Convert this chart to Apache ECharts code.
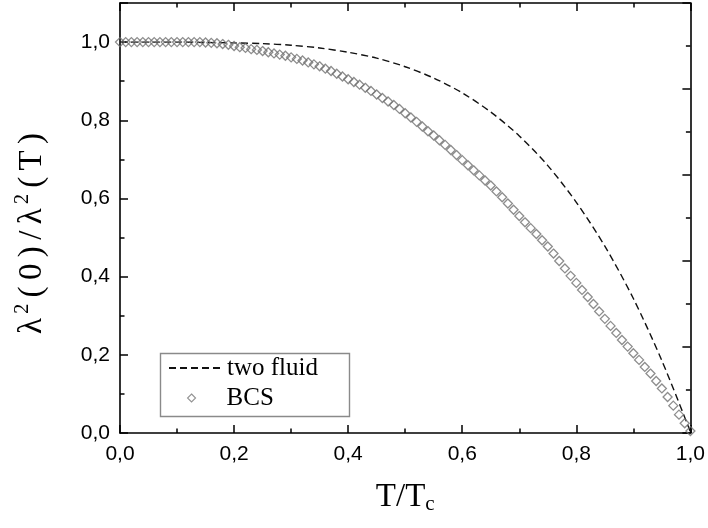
<!DOCTYPE html>
<html>
<head>
<meta charset="utf-8">
<script src="https://cdn.jsdelivr.net/npm/echarts@6/dist/echarts.min.js"></script>
<style>
html,body{margin:0;padding:0;background:#fff;}
#chart{width:708px;height:528px;}
</style>
</head>
<body>
<div id="chart"></div>
<script>
// ---- data ----
var twoFluidT = [0, 0.05, 0.1, 0.15, 0.2, 0.25, 0.3, 0.35, 0.4, 0.45, 0.5, 0.55, 0.6, 0.65, 0.7, 0.75, 0.8, 0.85, 0.9, 0.95, 1.0];
var twoFluidV = [1.0, 1.0, 1.0, 0.999, 0.998, 0.996, 0.992, 0.985, 0.974, 0.959, 0.937, 0.908, 0.870, 0.821, 0.760, 0.684, 0.590, 0.478, 0.344, 0.185, 0.003];

var bcsT = [0.00, 0.01, 0.02, 0.03, 0.04, 0.05, 0.06, 0.07, 0.08, 0.09,
            0.10, 0.11, 0.12, 0.13, 0.14, 0.15, 0.16, 0.17, 0.18, 0.19,
            0.20, 0.21, 0.22, 0.23, 0.24, 0.25, 0.26, 0.27, 0.28, 0.29,
            0.30, 0.31, 0.32, 0.33, 0.34, 0.35, 0.36, 0.37, 0.38, 0.39,
            0.40, 0.41, 0.42, 0.43, 0.44, 0.45, 0.46, 0.47, 0.48, 0.49,
            0.50, 0.51, 0.52, 0.53, 0.54, 0.55, 0.56, 0.57, 0.58, 0.59,
            0.60, 0.61, 0.62, 0.63, 0.64, 0.65, 0.66, 0.67, 0.68, 0.69,
            0.70, 0.71, 0.72, 0.73, 0.74, 0.75, 0.76, 0.77, 0.78, 0.79,
            0.80, 0.81, 0.82, 0.83, 0.84, 0.85, 0.86, 0.87, 0.88, 0.89,
            0.90, 0.91, 0.92, 0.93, 0.94, 0.95, 0.96, 0.97, 0.98, 0.99,
            1.00];
var bcsV = [1.000, 1.000, 1.000, 1.000, 1.000, 1.000, 1.000, 1.000, 1.000, 1.000,
            1.000, 1.000, 1.000, 1.000, 1.000, 0.999, 0.998, 0.997, 0.995, 0.993,
            0.990, 0.987, 0.985, 0.982, 0.980, 0.977, 0.974, 0.971, 0.968, 0.965,
            0.961, 0.957, 0.953, 0.948, 0.943, 0.938, 0.932, 0.926, 0.919, 0.912,
            0.905, 0.898, 0.891, 0.883, 0.875, 0.866, 0.857, 0.848, 0.839, 0.829,
            0.818, 0.807, 0.796, 0.784, 0.772, 0.761, 0.749, 0.737, 0.724, 0.711,
            0.698, 0.685, 0.672, 0.659, 0.646, 0.633, 0.618, 0.603, 0.587, 0.571,
            0.555, 0.539, 0.524, 0.509, 0.493, 0.477, 0.459, 0.440, 0.421, 0.402,
            0.384, 0.366, 0.348, 0.330, 0.311, 0.292, 0.274, 0.256, 0.238, 0.221,
            0.204, 0.187, 0.169, 0.152, 0.133, 0.114, 0.092, 0.070, 0.047, 0.025,
            0.005];

var xTickLabels = ['0,0', '0,2', '0,4', '0,6', '0,8', '1,0'];
var yTickLabels = ['0,0', '0,2', '0,4', '0,6', '0,8', '1,0'];
var seriesNames = ['two fluid', 'BCS'];

function zip(a, b) { var r = []; for (var i = 0; i < a.length; i++) r.push([a[i], b[i]]); return r; }
function fmt(labels) {
  return function (v) { var i = Math.round(v / 0.2); return (Math.abs(v - i * 0.2) < 1e-6 && labels[i] !== undefined) ? labels[i] : ''; };
}

var chart = echarts.init(document.getElementById('chart'), null, { renderer: 'canvas' });
var AX = '#000';
var sansFont = 'Liberation Sans';
var serifFont = 'Liberation Serif';

var nStyle = { fontSize: 33, fontFamily: serifFont, color: '#000', lineHeight: 38, padding: [0, 3.2, 0, 3.2] };
var sStyle = { fontSize: 20, fontFamily: serifFont, color: '#000', verticalAlign: 'top', lineHeight: 16, padding: [0, 3, 0, 1] };
var endStyle = { fontSize: 33, fontFamily: serifFont, color: '#000', lineHeight: 38, padding: [0, 34, 0, 3.2] };

var option = {
  backgroundColor: '#fff',
  animation: false,
  grid: { left: 120, right: 16, top: 3, bottom: 95, containLabel: false },
  xAxis: [
    {
      type: 'value', min: 0, max: 1, interval: 0.2, position: 'bottom',
      axisLine: { show: true, onZero: false, lineStyle: { color: AX, width: 1.6 } },
      axisTick: { show: true, inside: true, length: 8, lineStyle: { color: AX, width: 1.5 } },
      minorTick: { show: true, splitNumber: 2, length: 4.5, lineStyle: { color: AX, width: 1.5 } },
      splitLine: { show: false },
      axisLabel: { formatter: fmt(xTickLabels), color: '#000', fontSize: 21, fontFamily: sansFont, margin: 11 },
      name: '{n|T/T}{sub|c}',
      nameLocation: 'middle', nameGap: 46,
      nameTextStyle: {
        rich: {
          n: { fontSize: 33, fontFamily: serifFont, color: '#000', lineHeight: 36 },
          sub: { fontSize: 21, fontFamily: serifFont, color: '#000', verticalAlign: 'bottom', lineHeight: 16 }
        }
      }
    },
    {
      type: 'value', min: 0, max: 1, interval: 0.2, position: 'top',
      axisLine: { show: true, onZero: false, lineStyle: { color: AX, width: 1.6 } },
      axisTick: { show: true, inside: true, length: 8, lineStyle: { color: AX, width: 1.5 } },
      minorTick: { show: true, splitNumber: 2, length: 4.5, lineStyle: { color: AX, width: 1.5 } },
      splitLine: { show: false },
      axisLabel: { show: false }
    }
  ],
  yAxis: [
    {
      type: 'value', min: 0, max: 1.1, interval: 0.2, position: 'left',
      axisLine: { show: true, onZero: false, lineStyle: { color: AX, width: 1.6 } },
      axisTick: { show: true, inside: true, length: 8, lineStyle: { color: AX, width: 1.5 } },
      minorTick: { show: true, splitNumber: 2, length: 4.5, lineStyle: { color: AX, width: 1.5 } },
      splitLine: { show: false },
      axisLabel: { formatter: fmt(yTickLabels), color: '#000', fontSize: 21, fontFamily: sansFont, margin: 10, showMaxLabel: false },
      name: '{n|λ}{s|2}{n|(}{n|0}{n|)}{n|/}{n|λ}{s|2}{n|(}{n|T}{e|)}',
      nameLocation: 'middle', nameGap: 69, nameRotate: 90,
      nameTextStyle: {
        rich: { n: nStyle, s: sStyle, e: endStyle }
      }
    },
    {
      type: 'value', min: 0, max: 1, interval: 0.2, position: 'right',
      axisLine: { show: true, onZero: false, lineStyle: { color: AX, width: 1.6 } },
      axisTick: { show: true, inside: true, length: 8, lineStyle: { color: AX, width: 1.5 } },
      minorTick: { show: true, splitNumber: 2, length: 4.5, lineStyle: { color: AX, width: 1.5 } },
      splitLine: { show: false },
      axisLabel: { show: false }
    }
  ],
  legend: [
    {
      data: [seriesNames[0]], left: 168, top: 355, padding: 0,
      itemWidth: 53, itemHeight: 12, orient: 'vertical',
      itemStyle: { color: 'rgba(0,0,0,0)', borderColor: 'rgba(0,0,0,0)', borderWidth: 0 },
      textStyle: { fontFamily: serifFont, fontSize: 25, color: '#000', lineHeight: 26 }
    },
    {
      data: [{ name: seriesNames[1], icon: 'diamond' }], left: 187, top: 385, padding: 0,
      itemWidth: 8, itemHeight: 8, orient: 'vertical',
      itemStyle: { color: 'rgba(255,255,255,0)', borderColor: '#777', borderWidth: 1.1 },
      textStyle: { fontFamily: serifFont, fontSize: 25, color: '#000', lineHeight: 26, padding: [0, 0, 0, 26] }
    }
  ],
  graphic: [
    {
      type: 'rect', left: 158, top: 351, z: 0,
      shape: { width: 189, height: 63 },
      style: { fill: 'none', stroke: '#8a8a8a', lineWidth: 1.4 }
    }
  ],
  series: [
    {
      name: seriesNames[0], type: 'line', xAxisIndex: 0, yAxisIndex: 0,
      data: zip(twoFluidT, twoFluidV), smooth: 0.3,
      showSymbol: false, symbol: 'none',
      lineStyle: { color: '#111', width: 1.4, type: [7, 4] },
      itemStyle: { color: '#111' },
      z: 2
    },
    {
      name: seriesNames[1], type: 'scatter', xAxisIndex: 0, yAxisIndex: 0,
      data: zip(bcsT, bcsV),
      symbol: 'diamond', symbolSize: 9,
      itemStyle: { color: 'rgba(255,255,255,0)', borderColor: '#707070', borderWidth: 1.3 },
      z: 3
    }
  ]
};
chart.setOption(option);
</script>
</body>
</html>
